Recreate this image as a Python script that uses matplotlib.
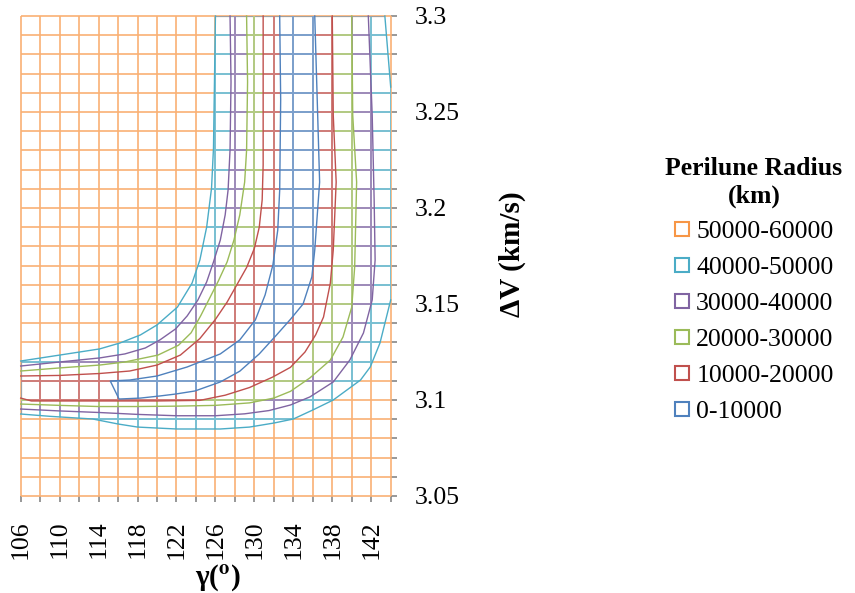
import matplotlib
matplotlib.use('Agg')
import matplotlib.pyplot as plt
from matplotlib.collections import LineCollection
from matplotlib.patches import Polygon
from matplotlib.lines import Line2D
from matplotlib.colors import to_rgb

plt.rcParams['font.family'] = ['Liberation Serif', 'DejaVu Serif']
plt.rcParams['mathtext.fontset'] = 'stix'

# grid of the surface (category positions)
gamma_vals = list(range(106, 145, 2))
dv_vals = [3.05, 3.06, 3.07, 3.08, 3.09, 3.10, 3.11, 3.12, 3.13, 3.14, 3.15, 3.16, 3.17,
           3.18, 3.19, 3.20, 3.21, 3.22, 3.23, 3.24, 3.25, 3.26, 3.27, 3.28, 3.29, 3.30]

band_labels = ['50000-60000', '40000-50000', '30000-40000', '20000-30000', '10000-20000', '0-10000']
band_colors = ['#F79646', '#4BACC6', '#8064A2', '#9BBB59', '#C0504D', '#4F81BD']

# band boundaries (gamma, dV)
# 50000 km
c50_left = [(106.0, 3.1203), (110.0, 3.1234), (114.1, 3.1266), (116.2, 3.1297), (118.3, 3.1339),
            (120.0, 3.1391), (122.1, 3.1484), (123.6, 3.1609), (124.4, 3.1729), (125.1, 3.1901),
            (125.6, 3.2104), (125.8, 3.2313), (125.9, 3.2656), (126.0, 3.3000)]
c50_right = [(106.0, 3.0927), (109.0, 3.0915), (113.4, 3.0901), (116.0, 3.0875), (118.0, 3.0859),
             (122.0, 3.0849), (126.5, 3.0849), (129.5, 3.0859), (132.0, 3.0880), (134.0, 3.0901),
             (136.0, 3.0948), (138.1, 3.1000), (139.5, 3.1052), (140.9, 3.1104), (141.9, 3.1172),
             (142.9, 3.1297), (144.0, 3.1521)]
c50_corner = [(144.0, 3.2630), (143.4, 3.3000)]
# 40000 km
c40_left = [(106.0, 3.1177), (110.0, 3.1198), (114.1, 3.1219), (116.7, 3.1240), (118.8, 3.1271),
            (120.3, 3.1313), (121.9, 3.1370), (123.1, 3.1438), (124.2, 3.1521), (125.1, 3.1615),
            (125.8, 3.1719), (126.5, 3.1833), (127.0, 3.1964), (127.3, 3.2094), (127.5, 3.2302),
            (127.6, 3.2656), (127.5, 3.3000)]
c40_right = [(106.0, 3.0953), (110.0, 3.0943), (114.0, 3.0935), (118.0, 3.0925), (122.0, 3.0918),
             (126.0, 3.0918), (129.0, 3.0928), (131.5, 3.0945), (133.7, 3.0974), (135.7, 3.1016),
             (138.1, 3.1094), (139.8, 3.1208), (141.2, 3.1349), (142.1, 3.1521), (142.4, 3.1729),
             (142.3, 3.2042), (142.1, 3.2484), (141.7, 3.3000)]
# 30000 km
c30_left = [(106.0, 3.1151), (110.0, 3.1167), (114.1, 3.1182), (116.7, 3.1198), (120.1, 3.1234),
            (122.2, 3.1285), (123.5, 3.1350), (124.5, 3.1440), (125.4, 3.1530), (126.3, 3.1620),
            (127.2, 3.1719), (127.9, 3.1833), (128.5, 3.1964), (129.0, 3.2135), (129.2, 3.2302),
            (129.3, 3.2656), (129.2, 3.3000)]
c30_right = [(106.0, 3.0979), (110.0, 3.0972), (114.0, 3.0966), (118.0, 3.0966), (122.0, 3.0968),
             (126.0, 3.0972), (129.5, 3.0985), (132.0, 3.1010), (133.7, 3.1045), (135.7, 3.1115),
             (137.8, 3.1208), (139.1, 3.1328), (140.0, 3.1484), (140.3, 3.1693), (140.5, 3.2135),
             (140.1, 3.2484), (140.0, 3.3000)]
# 20000 km
c20_left = [(106.0, 3.1125), (110.0, 3.1128), (114.1, 3.1138), (117.2, 3.1151), (120.0, 3.1182),
            (122.4, 3.1234), (124.4, 3.1320), (126.0, 3.1420), (127.2, 3.1510), (128.2, 3.1600),
            (129.2, 3.1690), (130.0, 3.1790), (130.5, 3.1900), (130.8, 3.2042), (130.9, 3.2224),
            (130.9, 3.2656), (130.9, 3.3000)]
c20_right = [(106.0, 3.1010), (107.1, 3.0995), (114.0, 3.0995), (120.0, 3.0995), (124.4, 3.0998),
             (127.0, 3.1025), (129.5, 3.1065), (131.9, 3.1120), (133.7, 3.1170), (135.2, 3.1250),
             (136.3, 3.1340), (137.1, 3.1432), (137.8, 3.1609), (138.1, 3.1781), (138.4, 3.2135),
             (138.1, 3.2484), (138.0, 3.3000)]
# 10000 km (one closed-off curve)
c10 = [(132.6, 3.3000), (132.7, 3.2563), (132.6, 3.2094), (132.4, 3.1885), (131.9, 3.1703),
       (131.1, 3.1547), (130.1, 3.1417), (128.5, 3.1313), (126.5, 3.1240), (123.1, 3.1172),
       (120.0, 3.1125), (117.2, 3.1104), (115.2, 3.1099), (116.1, 3.1005), (118.3, 3.1010),
       (120.3, 3.1021), (121.9, 3.1031), (123.9, 3.1047), (126.5, 3.1094), (128.5, 3.1150),
       (130.5, 3.1240), (132.3, 3.1340), (133.7, 3.1420), (135.0, 3.1500), (135.9, 3.1641),
       (136.2, 3.1781), (136.7, 3.2135), (136.5, 3.2484), (136.2, 3.3000)]

X0, X1 = gamma_vals[0], gamma_vals[-1]
Y0, Y1 = dv_vals[0], dv_vals[-1]
PX, PY = 0.8, 0.006


def tint(c, f=0.75):
    r, g, b = to_rgb(c)
    return (1 - f + f * r, 1 - f + f * g, 1 - f + f * b)


def region(left, right, corner=None):
    # area on the low side of a boundary, padded past the plot edges
    pts = [(left[-1][0], Y1 + PY)] + left[::-1]
    pts += [(X0 - PX, left[0][1]), (X0 - PX, right[0][1])] + right
    if corner:
        pts += [(X1 + PX, right[-1][1]), (X1 + PX, corner[0][1])] + corner
        pts += [(corner[-1][0], Y1 + PY)]
    else:
        pts += [(right[-1][0], Y1 + PY)]
    return pts


def grid_segs(edges=True):
    segs = []
    for g in gamma_vals:
        if g == X0 and not edges:
            continue
        segs.append([(g, Y0), (g, Y1)])
    for v in dv_vals:
        if v == Y1 and not edges:
            continue
        segs.append([(X0, v), (X1, v)])
    return segs


fig = plt.figure(figsize=(8.55, 5.93), dpi=100)
ax = fig.add_axes([20.7 / 855, 97 / 593, 370 / 855, 480 / 593])
ax.set_xlim(X0, X1)
ax.set_ylim(Y0, Y1)
for s in ax.spines.values():
    s.set_visible(False)

# base grid: highest band everywhere
base = LineCollection(grid_segs(), colors=[tint(band_colors[0])], linewidths=1.2, zorder=2)
base.set_clip_on(False)
ax.add_collection(base)

regions = [
    region(c50_left, c50_right, c50_corner),
    region(c40_left, c40_right),
    region(c30_left, c30_right),
    region(c20_left, c20_right),
    [(c10[0][0], Y1 + PY)] + c10 + [(c10[-1][0], Y1 + PY)],
]

for i, pts in enumerate(regions):
    col = band_colors[i + 1]
    patch = Polygon(pts, closed=True, transform=ax.transData)
    lc = LineCollection(grid_segs(edges=False), colors=[tint(col)], linewidths=1.4, zorder=2 + i * 0.1)
    ax.add_collection(lc)
    lc.set_clip_on(True)
    lc.set_clip_path(patch)
    if i == 0:
        edge = LineCollection([[(X0, Y0), (X0, Y1)], [(X0, Y1), (X1, Y1)]],
                              colors=['#A0A0A0'], linewidths=1.6, zorder=2.05)
        ax.add_collection(edge)
        edge.set_clip_path(Polygon(pts, closed=True, transform=ax.transData))

# boundary lines
bounds = [([c50_left, c50_right, c50_corner], band_colors[1]),
          ([c40_left, c40_right], band_colors[2]),
          ([c30_left, c30_right], band_colors[3]),
          ([c20_left, c20_right], band_colors[4]),
          ([c10], band_colors[5])]
for lines, col in bounds:
    for line in lines:
        gx = [p[0] for p in line]
        gy = [p[1] for p in line]
        ax.plot(gx, gy, color=col, lw=1.0, zorder=4, clip_on=False)

# axes ticks
ax.set_xticks(gamma_vals)
ax.set_xticklabels([str(g) if (g - X0) % 4 == 0 else '' for g in gamma_vals])
ax.yaxis.tick_right()
ax.set_yticks(dv_vals)
ax.set_yticklabels(['%g' % v if i % 5 == 0 else '' for i, v in enumerate(dv_vals)])
ax.tick_params(axis='x', direction='out', length=4.5, width=1.2, color='#868686',
               pad=13, labelsize=18.5, labelrotation=90)
ax.tick_params(axis='y', direction='out', length=4.5, width=1.2, color='#868686',
               pad=13, labelsize=18.5)

fig.text(218 / 855, 1 - 578 / 593, r'γ($^{\mathbf{o}}$)', ha='center', va='center',
         fontsize=21, fontweight='bold')
fig.text(512 / 855, 1 - 254 / 593, 'ΔV (km/s)', ha='center', va='center', rotation=90,
         fontsize=21, fontweight='bold')

handles = [Line2D([], [], marker='s', ls='none', markersize=9.5, markerfacecolor='white',
                  markeredgecolor=c, markeredgewidth=1.5) for c in band_colors]
leg = fig.legend(handles, band_labels, loc='center', bbox_to_anchor=(754 / 855, 1 - 290 / 593),
                 frameon=False, fontsize=18.5, title='Perilune Radius\n(km)',
                 title_fontproperties={'weight': 'bold', 'size': 18.5},
                 handlelength=0.6, handletextpad=0.25, labelspacing=0.5, borderpad=0)
leg.get_title().set_multialignment('center')

fig.savefig('out.png', dpi=100, facecolor='white')
